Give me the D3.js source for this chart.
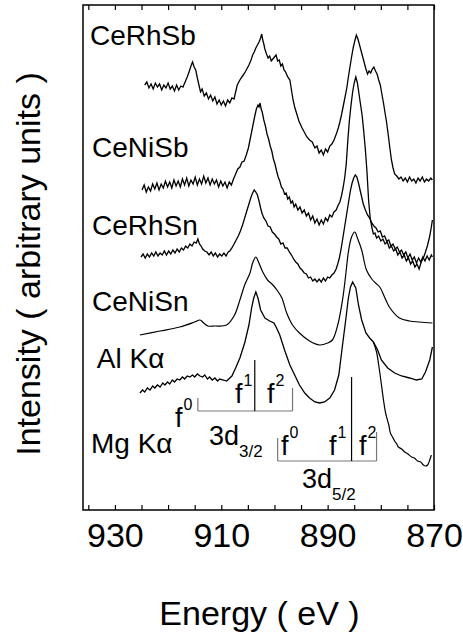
<!DOCTYPE html>
<html>
<head>
<meta charset="utf-8">
<script src="https://cdn.jsdelivr.net/npm/d3@7"></script>
<style>
  body { margin: 0; background: #fff; }
  svg { display: block; font-family: "Liberation Sans", Arial, Helvetica, sans-serif; }
</style>
</head>
<body>
<svg id="chart"></svg>
<script>
// Ce 3d XPS spectra, energy in eV, intensity in arbitrary units
const ceRhSb = [[924.4,425],[924.0,428],[923.6,422],[923.2,426],[922.8,421],[922.4,427],[922.0,423],[921.6,426],[921.2,420],[920.8,425],[920.4,422],[920.0,427],[919.6,421],[919.2,424],[918.8,419],[918.4,425],[918.0,420],[917.6,424],[917.2,423],[916.8,428],[916.4,433],[916.0,439],[915.7,444],[915.4,448],[915.1,443],[914.8,440],[914.5,432],[914.2,425],[913.9,418],[913.6,421],[913.2,414],[912.8,417],[912.4,411],[912.0,415],[911.6,409],[911.2,413],[910.8,406],[910.4,410],[910.0,405],[909.6,409],[909.2,404],[908.8,410],[908.4,407],[908.0,412],[907.6,411],[907.3,418],[907.0,425],[906.7,428],[906.4,431],[906.0,434],[905.6,437],[905.2,441],[904.8,445],[904.4,450],[904.1,455],[903.8,458],[903.5,462],[903.2,465],[902.9,468],[902.6,472],[902.4,476],[902.2,470],[902.0,466],[901.8,461],[901.5,456],[901.2,452],[900.9,454],[900.6,449],[900.3,451],[900.0,453],[899.7,455],[899.4,449],[899.1,450],[898.8,444],[898.5,446],[898.2,440],[897.9,438],[897.5,433],[897.1,430],[896.8,420],[896.5,410],[896.2,403],[895.8,396],[895.4,389],[894.9,383],[894.4,378],[893.9,373],[893.4,370],[892.9,368],[892.4,362],[892.0,364],[891.6,357],[891.2,360],[890.8,355],[890.4,361],[890.0,358],[889.6,364],[889.2,366],[888.8,370],[888.3,377],[888.0,382],[887.7,388],[887.4,395],[887.1,403],[886.8,411],[886.4,422],[886.1,433],[885.8,443],[885.5,453],[885.2,462],[884.9,469],[884.6,475],[884.3,471],[884.0,465],[883.7,459],[883.4,453],[883.1,447],[882.8,441],[882.5,436],[882.2,439],[881.9,437],[881.6,441],[881.3,443],[881.0,439],[880.7,436],[880.4,430],[880.1,425],[879.8,416],[879.5,407],[879.2,397],[878.9,387],[878.6,375],[878.3,362],[878.0,350],[877.7,342],[877.4,336],[877.0,334],[876.6,331],[876.2,333],[875.8,329],[875.4,332],[875.0,328],[874.6,333],[874.2,329],[873.8,331],[873.4,327],[873.0,332],[872.6,329],[872.2,333],[871.8,328],[871.4,331],[871.0,329],[870.6,332],[870.3,330]];

const ceNiSb = [[924.9,320],[924.5,325],[924.1,318],[923.7,323],[923.3,319],[922.9,326],[922.5,321],[922.1,327],[921.7,320],[921.3,326],[920.9,322],[920.5,329],[920.1,323],[919.7,328],[919.3,322],[918.9,330],[918.5,324],[918.1,329],[917.7,323],[917.3,331],[916.9,325],[916.5,332],[916.1,324],[915.7,330],[915.3,326],[914.9,333],[914.5,325],[914.1,331],[913.7,326],[913.3,334],[912.9,327],[912.5,332],[912.1,325],[911.7,331],[911.3,326],[910.9,330],[910.5,323],[910.1,329],[909.7,324],[909.3,328],[908.9,322],[908.5,328],[908.1,325],[907.7,331],[907.3,336],[906.9,341],[906.5,343],[906.1,348],[905.7,349],[905.3,355],[904.9,362],[904.6,370],[904.3,378],[904.0,386],[903.7,394],[903.4,401],[903.1,405],[902.9,403],[902.7,407],[902.5,401],[902.3,398],[902.0,390],[901.7,384],[901.4,376],[901.1,371],[900.8,364],[900.5,359],[900.2,351],[899.9,346],[899.6,339],[899.3,333],[899.0,329],[898.7,323],[898.4,321],[898.1,316],[897.8,317],[897.5,311],[897.2,313],[896.9,307],[896.6,309],[896.3,303],[896.0,306],[895.6,300],[895.2,303],[894.8,297],[894.4,300],[894.0,294],[893.6,297],[893.2,290],[892.8,294],[892.4,287],[892.0,291],[891.6,285],[891.2,290],[890.8,286],[890.4,292],[890.0,289],[889.6,295],[889.2,293],[888.8,298],[888.4,300],[888.0,305],[887.7,308],[887.4,314],[887.1,322],[886.8,332],[886.5,346],[886.2,370],[885.9,390],[885.6,405],[885.3,418],[885.0,427],[884.7,433],[884.4,427],[884.1,416],[883.8,405],[883.5,394],[883.2,378],[882.9,360],[882.6,338],[882.3,310],[882.0,292],[881.7,283],[881.4,276],[881.1,277],[880.8,272],[880.4,274],[880.0,269],[879.6,271],[879.2,266],[878.8,268],[878.4,262],[878.0,264],[877.6,259],[877.2,261],[876.8,255],[876.4,258],[876.0,252],[875.6,255],[875.2,249],[874.8,252],[874.4,246],[874.0,249],[873.6,243],[873.2,246],[872.8,241],[872.4,248],[872.0,252],[871.6,258],[871.2,265],[870.8,274],[870.5,283],[870.3,290]];

const ceRhSn = [[925.1,253],[924.7,256],[924.3,252],[923.9,256],[923.5,253],[923.1,257],[922.7,254],[922.3,258],[921.9,254],[921.5,257],[921.1,255],[920.7,259],[920.3,255],[919.9,259],[919.5,256],[919.1,260],[918.7,257],[918.3,261],[917.9,258],[917.5,262],[917.1,260],[916.7,264],[916.3,262],[915.9,266],[915.5,264],[915.1,268],[914.7,267],[914.4,271],[914.1,266],[913.8,264],[913.5,261],[913.1,259],[912.7,258],[912.3,255],[911.9,258],[911.5,254],[911.1,257],[910.7,253],[910.3,256],[909.9,254],[909.5,257],[909.1,254],[908.7,258],[908.4,259],[908.0,262],[907.6,266],[907.2,270],[906.8,274],[906.4,279],[906.0,285],[905.6,292],[905.2,299],[904.8,306],[904.4,313],[904.1,317],[903.8,320],[903.5,318],[903.2,315],[902.9,309],[902.6,302],[902.3,296],[902.0,292],[901.6,289],[901.2,284],[900.8,283],[900.4,278],[900.0,276],[899.6,273],[899.2,271],[898.8,266],[898.4,267],[898.0,262],[897.6,262],[897.2,258],[896.8,255],[896.4,251],[896.0,248],[895.6,246],[895.2,242],[894.8,240],[894.4,237],[894.0,236],[893.6,232],[893.2,233],[892.8,229],[892.4,231],[892.0,228],[891.6,231],[891.2,228],[890.8,232],[890.4,229],[890.0,233],[889.6,232],[889.2,235],[888.8,237],[888.4,241],[888.1,246],[887.8,252],[887.5,260],[887.2,270],[886.9,280],[886.6,290],[886.3,300],[886.0,310],[885.7,320],[885.4,327],[885.1,332],[884.8,335],[884.5,333],[884.2,327],[883.9,320],[883.6,313],[883.3,306],[882.9,300],[882.5,295],[882.1,292],[881.7,287],[881.3,284],[880.9,282],[880.5,278],[880.1,279],[879.7,273],[879.3,274],[878.9,269],[878.5,270],[878.1,264],[877.7,266],[877.3,261],[876.9,263],[876.5,258],[876.1,260],[875.7,255],[875.3,258],[874.9,252],[874.5,256],[874.1,250],[873.7,253],[873.3,247],[872.9,252],[872.5,248],[872.1,253],[871.7,249],[871.3,254],[870.9,250],[870.5,255],[870.3,253]];

const ceNiSn = [[925.3,175],[921.5,179],[917.8,183],[915.0,188],[914.0,190],[913.3,187],[912.5,184],[911.2,184],[909.0,185],[907.5,195],[906.5,210],[905.6,225],[904.6,237],[904.1,247],[903.5,253],[903.0,248],[902.2,238],[901.3,230],[900.3,225],[899.4,219],[898.6,212],[897.7,197],[896.6,185],[895.3,177],[893.4,169],[891.5,165],[890.0,167],[889.1,170],[888.1,185],[887.2,210],[886.6,235],[886.1,258],[885.5,273],[884.9,278],[884.4,272],[883.6,260],[882.7,240],[881.7,231],[881.0,227],[880.2,223],[879.3,213],[878.4,203],[876.5,192],[874.6,189],[872.7,188],[870.3,187]];

const alKa = [[925.3,117],[924.8,120],[924.4,118],[923.9,122],[923.4,120],[922.9,124],[922.5,122],[922.0,125],[921.5,123],[921.0,127],[920.6,125],[920.1,128],[919.7,126],[919.2,130],[918.8,128],[918.3,131],[917.8,130],[917.3,133],[916.9,131],[916.4,134],[915.9,133],[915.4,135],[915.0,133],[914.5,136],[914.0,134],[913.5,133],[913.1,135],[912.6,131],[912.2,133],[911.7,130],[911.2,132],[910.7,129],[910.3,131],[909.6,130],[909.0,129],[908.0,134],[907.3,142],[906.5,152],[905.6,167],[904.8,185],[904.3,202],[903.9,212],[903.5,218],[903.1,212],[902.6,200],[901.8,192],[900.9,189],[900.1,187],[899.6,182],[899.0,175],[898.1,160],[897.1,145],[896.2,135],[895.3,125],[894.3,117],[893.4,112],[892.4,108],[891.5,107],[890.6,108],[889.6,112],[888.7,120],[887.9,135],[887.2,165],[886.6,190],[886.1,212],[885.7,223],[885.3,228],[884.7,222],[884.2,205],[883.6,190],[882.8,177],[882.1,172],[881.4,168],[880.6,160],[879.9,150],[878.7,142],[877.4,137],[876.1,134],[874.6,132],[873.3,130],[872.3,131],[871.6,138],[870.8,150],[870.3,163]];

const mgKa = [[881.4,168],[880.8,158],[880.4,145],[880.0,130],[879.5,110],[879.1,97],[878.5,85],[878.2,77],[877.8,73],[877.4,69],[877.0,66],[876.7,63],[876.1,61],[875.5,58],[874.9,56],[874.2,53],[873.7,52],[873.1,49],[872.5,48],[872.0,45],[871.6,44],[871.2,45],[870.8,50],[870.5,55]];

const spectra = [ceRhSb, ceNiSb, ceRhSn, ceNiSn, alKa, mgKa];
const smooth = [false, false, false, true, false, true];

// series labels and where their text sits (eV, intensity)
const labelText = ['CeRhSb', 'CeNiSb', 'CeRhSn', 'CeNiSn', 'Al K', 'Mg K'];
const labelE = [934.7, 934.3, 934.3, 934.3, 933.4, 934.5];
const labelI = [465, 353, 275, 199, 142, 57];

// final-state markers f0, f1, f2
const d32E = [914.4, 903.7, 896.6];
const d32Top = [112, 150, 122];
const d32Base = 99;
const d52E = [899.4, 885.5, 880.8];
const d52Top = [72, 133, 78];
const d52Base = 49;

const xTicks = [935, 930, 925, 920, 915, 910, 905, 900, 895, 890, 885, 880, 875, 870];
const xLabels = [930, 910, 890, 870];

const width = 463;
const height = 633;
const mLeft = 83, mRight = 434, mTop = 5, mBottom = 510;

let svg = d3.select('#chart').attr('width', width).attr('height', height);

let xScale = d3.scaleLinear().domain([936, 870]).range([mLeft, mRight]);
let yScale = d3.scaleLinear().domain([0, 505]).range([mBottom, mTop]);

// frame
svg.append('rect')
    .attr('x', mLeft).attr('y', mTop)
    .attr('width', mRight - mLeft).attr('height', mBottom - mTop)
    .attr('fill', 'none').attr('stroke', '#000').attr('stroke-width', 1.5);

let xAxis = d3.axisBottom(xScale)
    .tickValues(xTicks)
    .tickSize(-5)
    .tickPadding(13)
    .tickFormat(d => xLabels.includes(d) ? d : '');

let gx = svg.append('g')
    .attr('transform', 'translate(0,' + mBottom + ')')
    .call(xAxis);
gx.select('.domain').remove();
gx.selectAll('line').attr('stroke-width', 1.2);
gx.selectAll('text').attr('font-size', 34).attr('font-family', 'inherit').attr('fill', '#000');

let xAxisTop = d3.axisTop(xScale).tickValues(xTicks).tickSize(-5).tickFormat('');
let gt = svg.append('g')
    .attr('transform', 'translate(0,' + mTop + ')')
    .call(xAxisTop);
gt.select('.domain').remove();
gt.selectAll('line').attr('stroke-width', 1.2);

// spectra
svg.append('clipPath').attr('id', 'plotclip')
    .append('rect').attr('x', mLeft).attr('y', mTop)
    .attr('width', mRight - mLeft).attr('height', mBottom - mTop);

spectra.forEach((s, i) => {
    let line = d3.line()
        .x(d => xScale(d[0]))
        .y(d => yScale(d[1]))
        .curve(smooth[i] ? d3.curveCatmullRom : d3.curveLinear);
    svg.append('path')
        .datum(s)
        .attr('d', line)
        .attr('fill', 'none')
        .attr('stroke', '#000')
        .attr('stroke-width', smooth[i] ? 1.2 : 1.3)
        .attr('clip-path', 'url(#plotclip)');
});

// labels
labelText.forEach((t, i) => {
    let txt = svg.append('text')
        .attr('x', xScale(labelE[i]))
        .attr('y', yScale(labelI[i]))
        .attr('font-size', 28)
        .text(t);
    if (i >= 4) txt.append('tspan').text('\u03b1');
});

// brackets
let drawBracket = (energies, tops, base) => {
    svg.append('line')
        .attr('x1', xScale(energies[0])).attr('x2', xScale(energies[2]))
        .attr('y1', yScale(base)).attr('y2', yScale(base))
        .attr('stroke', '#777').attr('stroke-width', 1.2);
    energies.forEach((e, i) => {
        svg.append('line')
            .attr('x1', xScale(e)).attr('x2', xScale(e))
            .attr('y1', yScale(base)).attr('y2', yScale(tops[i]))
            .attr('stroke', i === 1 ? '#000' : '#777')
            .attr('stroke-width', 1.2);
    });
};
drawBracket(d32E, d32Top, d32Base);
drawBracket(d52E, d52Top, d52Base);

let fLabel = (x, y, sup) => {
    let t = svg.append('text').attr('x', x).attr('y', y).attr('font-size', 27).text('f');
    t.append('tspan').attr('font-size', 16).attr('dy', -17).attr('dx', 1).text(sup);
};
fLabel(175, 427, '0');
fLabel(235, 403, '1');
fLabel(267, 403, '2');
fLabel(281, 455, '0');
fLabel(329, 455, '1');
fLabel(359, 455, '2');

let dLabel = (x, y, sub) => {
    let t = svg.append('text').attr('x', x).attr('y', y).attr('font-size', 27).text('3d');
    t.append('tspan').attr('font-size', 17).attr('dy', 12).text(sub);
};
dLabel(209, 445, '3/2');
dLabel(302, 488, '5/2');

// axis titles
svg.append('text')
    .attr('x', (mLeft + mRight) / 2 + 1)
    .attr('y', 625)
    .attr('text-anchor', 'middle')
    .attr('font-size', 34)
    .text('Energy ( eV )');

svg.append('text')
    .attr('transform', 'translate(40,' + 264 + ') rotate(-90)')
    .attr('text-anchor', 'middle')
    .attr('font-size', 34)
    .text('Intensity ( arbitrary units )');
</script>
</body>
</html>
